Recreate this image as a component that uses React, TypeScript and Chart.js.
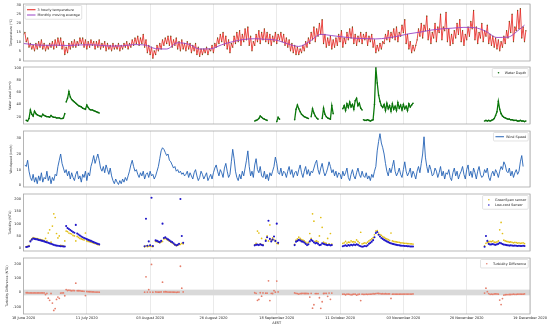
import React, { useEffect, useRef } from "react";
import { Chart, registerables } from "chart.js";

Chart.register(...registerables);

const FONT = '"DejaVu Sans", "Liberation Sans", sans-serif';

// ---------- shared time axis (days since 18 June 2020) ----------
const xTickDays = [0, 23, 46, 69, 92, 115, 138, 161, 184];
const xTickLabels = [
  "18 June 2020",
  "11 July 2020",
  "03 August 2020",
  "26 August 2020",
  "18 September 2020",
  "11 October 2020",
  "03 November 2020",
  "26 November 2020",
  "19 December 2020",
];

// ---------- temperature (every half day) ----------
const tempStart = 0;
const tempStep = 0.5;
const temperature = [
  14, 15, 10, 12, 7, 9, 6, 8, 5, 9, 6, 10, 7, 11, 6, 9, 5, 8, 6, 9,
  7, 10, 6, 11, 7, 12, 8, 12, 6, 10, 3, 7, 4, 9, 6, 10, 7, 11, 7, 10,
  8, 12, 9, 12, 7, 11, 6, 10, 7, 11, 8, 10, 6, 10, 7, 11, 6, 9, 7, 10,
  5, 9, 6, 8, 5, 9, 6, 8, 6, 9, 5, 8, 6, 9, 7, 10, 6, 9, 7, 11,
  8, 12, 9, 13, 8, 12, 9, 14, 7, 11, 4, 8, 3, 7, 1, 5, 3, 8, 5, 9,
  6, 11, 8, 12, 9, 13, 8, 13, 7, 11, 8, 12, 6, 10, 5, 11, 6, 9, 5, 10,
  6, 9, 4, 8, 5, 9, 3, 7, 2, 6, 3, 6, 4, 7, 3, 6, 5, 8, 4, 9,
  7, 12, 9, 14, 10, 15, 8, 13, 6, 11, 4, 9, 7, 13, 9, 15, 10, 16, 8, 14,
  10, 17, 11, 18, 8, 13, 5, 10, 8, 14, 10, 16, 9, 15, 11, 17, 10, 15, 9, 14,
  8, 13, 10, 15, 9, 14, 11, 15, 10, 14, 8, 12, 7, 11, 5, 9, 4, 8, 3, 7,
  3, 6, 4, 8, 5, 10, 7, 12, 9, 15, 11, 18, 10, 17, 13, 20, 14, 22, 9, 14,
  7, 12, 8, 13, 6, 11, 7, 12, 8, 14, 10, 16, 7, 12, 9, 15, 11, 17, 12, 18,
  9, 14, 8, 13, 10, 15, 9, 14, 11, 15, 8, 13, 10, 14, 7, 11, 4, 8, 5, 9,
  6, 10, 9, 14, 11, 16, 10, 15, 12, 17, 11, 18, 10, 15, 13, 19, 15, 22, 9, 14,
  6, 10, 4, 8, 5, 8, 11, 17, 13, 20, 12, 19, 16, 24, 11, 17, 9, 15, 12, 20,
  10, 18, 15, 25, 11, 18, 16, 26, 10, 17, 8, 14, 9, 16, 12, 20, 14, 22, 10, 16,
  8, 14, 11, 18, 13, 21, 17, 27, 11, 18, 9, 15, 12, 20, 10, 16, 13, 19, 9, 14,
  8, 13, 7, 12, 6, 11, 5, 10, 7, 13, 9, 16, 12, 21, 15, 25, 10, 18, 16, 27,
  17, 28, 12, 18, 10, 16,
];

// ---------- monthly moving average ----------
const maDays = [
  0, 4, 8, 12, 16, 20, 24, 28, 32, 36, 40, 44, 48, 52, 56, 60, 64, 68, 72, 76,
  80, 84, 88, 92, 96, 100, 104, 108, 112, 116, 120, 124, 128, 132, 136, 140,
  144, 148, 152, 156, 160, 164, 168, 172, 176, 180, 182,
];
const maValues = [
  9.0, 8.3, 8.0, 8.1, 7.9, 8.2, 8.3, 8.0, 7.6, 7.7, 8.4, 8.2, 6.2, 6.0, 9.4,
  8.6, 6.0, 6.1, 8.3, 10.0, 11.2, 11.6, 11.3, 10.8, 8.8, 7.4, 10.2, 14.0, 13.3,
  12.6, 11.9, 11.7, 11.5, 12.0, 13.0, 14.3, 15.2, 16.3, 17.0, 17.4, 17.8, 17.6,
  15.6, 12.3, 12.5, 16.5, 19.0,
];

// ---------- water depth (half-day samples, in segments) ----------
const wdStep = 0.5;
const wdA = [14, 13, 17, 31, 24, 21, 29, 25, 23, 22, 21, 20, 24, 22, 21, 20, 20, 19, 22, 20, 19, 19, 18, 18, 18, 17, 17, 18, 25];
const wdB = [44, 50, 61, 52, 48, 46, 44, 42, 40, 38, 37, 36, 34, 33, 32, 39, 35, 32, 31, 31, 30, 29, 28, 27, 26];
const wdC = [13, 14, 15, 17, 21, 19, 17, 16, 15, 14];
const wdD = [12, 19, 16];
const wdE = [15, 32, 39, 33, 28, 24, 22, 20, 19, 18, 17];
const wdF = [20, 33, 26, 21, 18, 16];
const wdG = [17, 34, 24, 20, 18, 17, 16, 38, 25];
const wdH = [33, 38, 30, 41, 35, 44, 36, 40, 32, 46, 50, 38, 42, 34, 31];
const wdI = [15, 14, 14, 15, 14, 13, 14, 15, 40, 100, 75, 55, 45, 38, 35, 40, 30, 42, 33, 38, 29, 41, 32, 37, 30, 43, 34, 39, 31, 40, 33, 37, 30, 41, 36, 39, 42];
const wdK = [13, 14, 13, 14, 13, 14, 15, 17, 22, 28, 45, 32, 25, 21, 19, 18, 17, 16, 16, 15, 15, 14, 14, 14, 13, 13, 14, 13, 13, 12, 13];
const wdStarts = [1, 15.5, 84, 92, 98.5, 104.5, 108.5, 116, 123.5, 167.5];
const wdSegments = [wdA, wdB, wdC, wdD, wdE, wdF, wdG, wdH, wdI, wdK];

// ---------- wind speed (every half day) ----------
const windStart = 0.5;
const windStep = 0.5;
const windSpeed = [
  13,
  12, 16, 9, 5, 3, 7, 2, 5, 1, 6, 3, 8, 2, 5, 4, 9, 3, 6, 1, 5,
  3, 7, 6, 12, 16, 20, 14, 11, 8, 10, 6, 9, 4, 8, 5, 3, 7, 9, 4, 6,
  2, 7, 5, 9, 3, 8, 6, 12, 15, 19, 14, 17, 20, 16, 11, 9, 12, 8, 13, 10,
  7, 11, 6, 3, 1, 4, 2, 0.5, 3, 1, 4, 2, 5, 3, 6, 9, 13, 16, 12, 9,
  10, 7, 5, 8, 6, 9, 4, 7, 8, 5, 9, 6, 7, 4, 6, 9, 12, 17, 22, 24,
  23, 21, 19, 20, 16, 15, 13, 11, 12, 9, 10, 8, 9, 7, 8, 6, 7, 9, 5, 8,
  6, 4, 8, 10, 6, 3, 5, 9, 7, 4, 6, 8, 3, 5, 7, 4, 8, 11, 13, 9,
  6, 10, 8, 5, 11, 14, 9, 5, 7, 15, 23, 17, 9, 5, 3, 7, 4, 9, 6, 11,
  16, 22, 12, 6, 9, 5, 13, 17, 10, 8, 12, 6, 5, 9, 4, 7, 3, 8, 6, 9,
  12, 18, 14, 8, 7, 11, 6, 9, 8, 5, 9, 12, 7, 10, 5, 8, 9, 6, 10, 13,
  8, 5, 9, 12, 7, 10, 6, 9, 8, 11, 14, 16, 10, 7, 11, 14, 9, 6, 8, 11,
  15, 12, 8, 10, 6, 9, 5, 8, 7, 4, 9, 6, 8, 11, 5, 3, 7, 10, 6, 4,
  8, 11, 7, 5, 9, 6, 5, 8, 4, 6, 3, 7, 5, 9, 12, 22, 28, 33, 27, 24,
  20, 14, 9, 6, 11, 8, 12, 16, 9, 6, 8, 11, 7, 5, 10, 15, 9, 6, 8, 11,
  5, 9, 7, 4, 9, 12, 8, 14, 20, 31, 18, 12, 8, 13, 10, 6, 7, 11, 9, 5,
  8, 12, 6, 9, 4, 8, 7, 10, 5, 3, 8, 11, 6, 9, 4, 7, 9, 12, 7, 4,
  10, 13, 6, 9, 5, 11, 8, 4, 9, 12, 7, 5, 6, 10, 8, 11, 5, 3, 7, 9,
  6, 10, 8, 5, 9, 12, 10, 15, 13, 9, 8, 11, 6, 9, 5, 8, 10, 7, 9, 15,
  19, 12,
];

// ---------- turbidity (half-day samples, in segments) ----------
const turbStep = 0.5;
const turbStarts = [1, 15.5, 44, 48, 84, 88, 98.5, 116, 167.5];
const lowCost1 = [5, 6, 8, 28, 35, 40, 38, 37, 36, 34, 33, 31, 30, 28, 26, 24, 22, 20, 18, 16, 14, 12, 11, 10, 9, 8, 8, 7, 7];
const greenSpan1 = [7, 8, 11, 31, 38, 43, 41, 40, 39, 37, 36, 34, 33, 31, 40, 30, 62, 75, 25, 90, 140, 125, 60, 42, 50, 12, 11, 10, 30];
const lowCost2 = [90, 82, 78, 74, 70, 66, 63, 95, 60, 56, 52, 48, 45, 42, 40, 37, 34, 32, 30, 27, 25, 22, 20, 18, 16];
const greenSpan2 = [70, 68, 62, 60, 58, 52, 50, 30, 48, 44, 40, 38, 36, 34, 62, 30, 28, 27, 25, 23, 21, 19, 17, 15, 14];
const lowCost3 = [8, 120, 10, 28, 12, 205, 9];
const greenSpan3 = [6, 10, 7, 8, 9, 8, 7];
const lowCost4 = [32, 30, 27, 25, 30, 100, 42, 45, 40, 36, 32, 28, 25, 20, 15, 12, 14, 18, 200, 50, 22];
const greenSpan4 = [28, 27, 25, 22, 26, 28, 38, 40, 36, 33, 29, 25, 22, 18, 13, 11, 12, 15, 16, 20, 18];
const lowCost5 = [12, 14, 15, 13, 16, 14, 12];
const greenSpan5 = [14, 20, 70, 62, 18, 40, 15];
const lowCost6 = [30, 45, 112, 38, 28, 35, 48, 30, 100, 22];
const greenSpan6 = [35, 50, 30, 95, 34, 42, 35, 28, 20, 18];
const lowCost7 = [13, 27, 30, 34, 32, 28, 27, 23, 18, 13, 16, 28, 34, 30, 24, 20, 22, 18, 13, 14, 20, 18, 16, 14, 13, 14, 12, 13];
const greenSpan7 = [16, 33, 38, 45, 40, 35, 33, 30, 25, 20, 24, 60, 40, 140, 110, 28, 30, 26, 50, 125, 85, 25, 22, 20, 40, 18, 60, 17];
const lowCost8 = [
  8, 10, 12, 9, 13, 11, 14, 12, 15, 13, 16, 14, 10, 8, 6, 7, 9, 8, 12, 18,
  22, 27, 33, 45, 62, 66, 55, 48, 42, 38, 34, 31, 28, 25, 22, 20, 18, 17, 15, 14,
  13, 12, 11, 10, 10, 9, 9, 8, 8, 7, 7, 7,
];
const greenSpan8 = [
  20, 22, 28, 21, 25, 24, 30, 26, 27, 25, 34, 28, 22, 65, 18, 20, 22, 20, 25, 30,
  34, 38, 42, 55, 70, 72, 62, 56, 52, 47, 44, 40, 38, 35, 32, 62, 30, 28, 27, 26,
  25, 24, 22, 22, 21, 20, 20, 19, 19, 18, 18, 17,
];
const lowCost9 = [6, 50, 30, 18, 15, 16, 17, 15, 14, 16, 18, 22, 20, 17, 15, 14, 13, 12, 11, 12, 11, 10, 11, 10, 9, 10, 9, 9, 10, 9];
const greenSpan9 = [10, 20, 24, 26, 28, 27, 30, 25, 24, 26, 30, 75, 105, 60, 33, 30, 28, 27, 25, 26, 24, 22, 24, 23, 21, 22, 20, 21, 22, 19];
const lowCostSegments = [lowCost1, lowCost2, lowCost3, lowCost4, lowCost5, lowCost6, lowCost7, lowCost8, lowCost9];
const greenSpanSegments = [greenSpan1, greenSpan2, greenSpan3, greenSpan4, greenSpan5, greenSpan6, greenSpan7, greenSpan8, greenSpan9];
const diffBandLow = -20;
const diffBandHigh = 20;

// ---------- helpers to build library data tables ----------
type Pt = { x: number; y: number | null };
function series(start: number, step: number, values: number[]): Pt[] {
  return values.map((v, i) => ({ x: start + i * step, y: v }));
}
function paired(xs: number[], ys: number[]): Pt[] {
  return xs.map((x, i) => ({ x, y: ys[i] }));
}
function segmented(starts: number[], segs: number[][], step: number): Pt[] {
  const out: Pt[] = [];
  segs.forEach((s, k) => {
    if (k > 0) out.push({ x: starts[k] - step / 2, y: null });
    s.forEach((v, i) => out.push({ x: starts[k] + i * step, y: v }));
  });
  return out;
}
function differences(): Pt[] {
  const out: Pt[] = [];
  lowCostSegments.forEach((s, k) => {
    s.forEach((v, i) => out.push({ x: turbStarts[k] + i * turbStep, y: v - greenSpanSegments[k][i] }));
  });
  return out;
}

// ---------- plugins ----------
const framePlugin = {
  id: "frame",
  afterDraw(chart: any) {
    const { ctx, chartArea: ca } = chart;
    ctx.save();
    ctx.strokeStyle = "#a8a8a8";
    ctx.lineWidth = 0.8;
    ctx.strokeRect(ca.left, ca.top, ca.right - ca.left, ca.bottom - ca.top);
    ctx.restore();
  },
};

const bandPlugin = {
  id: "band",
  beforeDatasetsDraw(chart: any, _a: any, opts: any) {
    if (!opts || opts.from === undefined) return;
    const { ctx, chartArea: ca } = chart;
    const y = chart.scales.y;
    const y1 = y.getPixelForValue(opts.to);
    const y2 = y.getPixelForValue(opts.from);
    ctx.save();
    ctx.fillStyle = opts.color;
    ctx.fillRect(ca.left, y1, ca.right - ca.left, y2 - y1);
    ctx.restore();
  },
};

const boxLegend = {
  id: "boxLegend",
  afterDatasetsDraw(chart: any, _a: any, opts: any) {
    const items = opts && opts.items;
    if (!items || !items.length) return;
    const { ctx, chartArea: ca } = chart;
    const fs = opts.fontSize ?? 3.4;
    ctx.save();
    ctx.font = `${fs}px ${FONT}`;
    const labels: string[] = items.map((it: any) => chart.data.datasets[it.ds].label);
    const textW = Math.max(...labels.map((l) => ctx.measureText(l).width));
    const sw = opts.sampleWidth ?? 8.5;
    const gap = 2;
    const px = 2;
    const py = 1.6;
    const rh = fs * 1.55;
    const w = px * 2 + sw + gap + textW;
    const h = py * 2 + rh * items.length;
    const x = opts.align === "left" ? ca.left + 1.5 : ca.right - 1.8 - w;
    const y = ca.top + 1.5;
    ctx.fillStyle = "rgba(255,255,255,0.9)";
    ctx.strokeStyle = "#cfcfcf";
    ctx.lineWidth = 0.6;
    ctx.beginPath();
    if (ctx.roundRect) ctx.roundRect(x, y, w, h, 1);
    else ctx.rect(x, y, w, h);
    ctx.fill();
    ctx.stroke();
    items.forEach((it: any, i: number) => {
      const ds = chart.data.datasets[it.ds];
      const cy = y + py + rh * (i + 0.5);
      const sx = x + px;
      if (it.kind === "line") {
        ctx.strokeStyle = ds.borderColor;
        ctx.lineWidth = 1;
        ctx.beginPath();
        ctx.moveTo(sx, cy);
        ctx.lineTo(sx + sw, cy);
        ctx.stroke();
      } else {
        ctx.fillStyle = ds.pointBackgroundColor || ds.backgroundColor;
        ctx.beginPath();
        ctx.arc(sx + sw / 2, cy, 0.8, 0, Math.PI * 2);
        ctx.fill();
      }
      ctx.fillStyle = "#222";
      ctx.textBaseline = "middle";
      ctx.textAlign = "left";
      ctx.fillText(labels[i], sx + sw + gap, cy);
    });
    ctx.restore();
  },
};

// ---------- scales ----------
function xScale(bottom: boolean) {
  return {
    type: "linear",
    min: 0,
    max: 184,
    afterBuildTicks: (s: any) => {
      s.ticks = xTickDays.map((v) => ({ value: v }));
    },
    afterFit: (s: any) => {
      s.height = bottom ? 14 : 0;
      s.paddingLeft = 0;
      s.paddingRight = 0;
    },
    grid: { display: true, color: "#dcdcdc", lineWidth: 0.6, drawTicks: false },
    border: { display: false },
    ticks: {
      display: bottom,
      autoSkip: false,
      maxRotation: 0,
      padding: 1.5,
      color: "#222",
      font: { family: FONT, size: 3.5 },
      callback: (_v: any, i: number) => xTickLabels[i],
    },
    title: {
      display: bottom,
      text: "AEST",
      color: "#222",
      font: { family: FONT, size: 3.5 },
      padding: { top: 0, bottom: 2.8 },
    },
  };
}

function yScale(min: number, max: number, ticks: number[], title: string, titleX: number) {
  return {
    type: "linear",
    min,
    max,
    afterBuildTicks: (s: any) => {
      s.ticks = ticks.map((v) => ({ value: v }));
    },
    afterFit: (s: any) => {
      s.width = 23.5;
      s.paddingTop = 0;
      s.paddingBottom = 0;
    },
    grid: { display: false, drawTicks: false },
    border: { display: false },
    ticks: {
      padding: 2.5,
      color: "#222",
      font: { family: FONT, size: 3.5 },
      callback: (v: any) => String(v),
    },
    title: {
      display: true,
      text: title,
      color: "#222",
      font: { family: FONT, size: 3.2 },
      padding: { top: titleX - 1.9, bottom: 0 },
    },
  };
}

function baseOptions(bottom: boolean, y: any, pluginOpts: any) {
  return {
    responsive: false,
    animation: false,
    events: [],
    layout: { padding: { top: 8, bottom: bottom ? 0 : 8, left: 0, right: 20 } },
    scales: { x: xScale(bottom), y },
    plugins: { legend: { display: false }, tooltip: { enabled: false }, ...pluginOpts },
  };
}

// ---------- panel configs ----------
function temperatureConfig() {
  return {
    type: "line",
    data: {
      datasets: [
        {
          label: "Monthly moving average",
          data: paired(maDays, maValues),
          borderColor: "#9a45c6",
          borderWidth: 0.9,
          pointRadius: 0,
          cubicInterpolationMode: "monotone",
        },
        {
          label: "3 hourly temperature",
          data: series(tempStart, tempStep, temperature),
          borderColor: "#e3211c",
          borderWidth: 0.8,
          pointRadius: 0.65,
          pointBorderWidth: 0,
          pointBackgroundColor: "#6b5a1c",
        },
      ],
    },
    options: baseOptions(false, yScale(-0.55, 30.55, [0, 5, 10, 15, 20, 25, 30], "Temperature (°C)", 11), {
      boxLegend: { align: "left", items: [{ ds: 1, kind: "line" }, { ds: 0, kind: "line" }] },
    }),
    plugins: [boxLegend, framePlugin],
  };
}

function waterConfig() {
  return {
    type: "line",
    data: {
      datasets: [
        {
          label: "Water Depth",
          data: segmented(wdStarts, wdSegments, wdStep),
          borderColor: "#0b7a0b",
          borderWidth: 1.3,
          pointRadius: 0.8,
          pointBorderWidth: 0,
          pointBackgroundColor: "#0b6b0b",
          spanGaps: false,
        },
      ],
    },
    options: baseOptions(false, yScale(8.1, 101.1, [20, 40, 60, 80, 100], "Water Level (mm)", 10), {
      boxLegend: { align: "right", items: [{ ds: 0, kind: "point" }] },
    }),
    plugins: [boxLegend, framePlugin],
  };
}

function windConfig() {
  return {
    type: "line",
    data: {
      datasets: [
        {
          label: "Wind Speed",
          data: series(windStart, windStep, windSpeed),
          borderColor: "#2462b5",
          borderWidth: 0.9,
          pointRadius: 0,
        },
      ],
    },
    options: baseOptions(false, yScale(-1.1, 34.7, [0, 10, 20, 30], "Windspeed (km/h)", 11), {
      boxLegend: { align: "right", items: [{ ds: 0, kind: "line" }] },
    }),
    plugins: [boxLegend, framePlugin],
  };
}

function turbidityConfig() {
  return {
    type: "scatter",
    data: {
      datasets: [
        {
          label: "Low-cost Sensor",
          data: segmented(turbStarts, lowCostSegments, turbStep),
          backgroundColor: "#1f16c8",
          pointBackgroundColor: "#1f16c8",
          pointRadius: 1.05,
          pointBorderWidth: 0,
        },
        {
          label: "GreenSpan sensor",
          data: segmented(turbStarts, greenSpanSegments, turbStep),
          backgroundColor: "#e2bf16",
          pointBackgroundColor: "#e2bf16",
          pointRadius: 0.85,
          pointBorderWidth: 0,
        },
      ],
    },
    options: baseOptions(false, yScale(-11, 220.3, [0, 50, 100, 150, 200], "Turbidity (NTU)", 10), {
      boxLegend: { align: "right", items: [{ ds: 1, kind: "point" }, { ds: 0, kind: "point" }] },
    }),
    plugins: [boxLegend, framePlugin],
  };
}

function differenceConfig() {
  return {
    type: "scatter",
    data: {
      datasets: [
        {
          label: "Turbidity Difference",
          data: differences(),
          backgroundColor: "#e57f6c",
          pointBackgroundColor: "#e57f6c",
          pointRadius: 0.9,
          pointBorderWidth: 0,
        },
      ],
    },
    options: baseOptions(true, yScale(-151, 242, [-100, 0, 100, 200], "Turbidity Difference (NTU)", 7.5), {
      band: { from: diffBandLow, to: diffBandHigh, color: "#d9d9d9" },
      boxLegend: { align: "right", items: [{ ds: 0, kind: "point" }] },
    }),
    plugins: [bandPlugin, boxLegend, framePlugin],
  };
}

function Panel({ top, height, build }: { top: number; height: number; build: () => any }) {
  const ref = useRef<HTMLCanvasElement | null>(null);
  useEffect(() => {
    if (!ref.current) return;
    const chart = new Chart(ref.current, build());
    return () => chart.destroy();
  }, []);
  return (
    <div style={{ position: "absolute", left: 0, top, width: 550, height }}>
      <canvas ref={ref} width={550} height={height} style={{ display: "block", width: 550, height }} />
    </div>
  );
}

export default function App() {
  return (
    <div style={{ position: "fixed", left: 0, top: 0, width: 550, height: 328, background: "#fff", overflow: "hidden" }}>
      <Panel top={-4} height={73} build={temperatureConfig} />
      <Panel top={59} height={73} build={waterConfig} />
      <Panel top={123} height={72} build={windConfig} />
      <Panel top={186} height={73} build={turbidityConfig} />
      <Panel top={250} height={78} build={differenceConfig} />
    </div>
  );
}
